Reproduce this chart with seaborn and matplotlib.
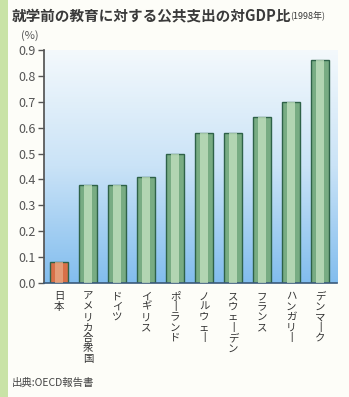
import numpy as np
import pandas as pd
import matplotlib
matplotlib.use("Agg")
import matplotlib.pyplot as plt
from matplotlib.colors import LinearSegmentedColormap
import seaborn as sns

countries = ["日本", "アメリカ合衆国", "ドイツ", "イギリス", "ポーランド",
             "ノルウェー", "スウェーデン", "フランス", "ハンガリー", "デンマーク"]
values = [0.08, 0.38, 0.38, 0.41, 0.50, 0.58, 0.58, 0.64, 0.70, 0.86]
yticks = [0.0, 0.1, 0.2, 0.3, 0.4, 0.5, 0.6, 0.7, 0.8, 0.9]

sns.set_theme(style="white")
plt.rcParams['font.family'] = ['Noto Sans CJK JP', 'DejaVu Sans']

df = pd.DataFrame({"country": countries, "value": values})

fig = plt.figure(figsize=(3.49, 3.97), dpi=100, facecolor="#fdfdf8")
# green strip on left edge
fig.patches.append(plt.Rectangle((0, 0), 0.022, 1, transform=fig.transFigure,
                                 facecolor="#c9e3a6", edgecolor="none", zorder=0))

ax = fig.add_axes([0.126, 0.287, 0.84, 0.587])

# gradient background
cmap = LinearSegmentedColormap.from_list("bg", ["#f4f9fc", "#cae3f7", "#82bdee"])
grad = np.linspace(0, 1, 256).reshape(-1, 1)
ax.imshow(grad, aspect="auto", cmap=cmap, extent=[0, 1, 0, 1],
          transform=ax.transAxes, zorder=0)

palette = ["#f06530"] + ["#6fb57e"] * (len(countries) - 1)
sns.barplot(data=df, x="country", y="value", hue="country", palette=palette,
            legend=False, width=0.65, edgecolor="#2e6248", linewidth=1.0,
            ax=ax, zorder=2)
light = ["#f9a878"] + ["#c2eabc"] * (len(countries) - 1)
sns.barplot(data=df, x="country", y="value", hue="country", palette=light,
            legend=False, width=0.28, linewidth=0, ax=ax, zorder=3)
for p in ax.patches[len(countries):]:
    p.set_alpha(0.75)

ax.set_xlim(-0.52, 9.59)
ax.set_ylim(0, 0.9)
ax.set_yticks(yticks)
ax.set_yticklabels([f"{t:.1f}" for t in yticks], fontsize=9, color="#555555")
ax.tick_params(axis="y", direction="out", length=4, width=1, color="#555555", left=True, pad=2)

def vert(s):
    return "\n".join("丨" if c == "ー" else c for c in s)

ax.set_xticks(range(len(countries)))
ax.set_xticklabels([vert(c) for c in countries], fontsize=7.5, color="#333333",
                   linespacing=1.05, va="top")
ax.tick_params(axis="x", length=0, pad=6)
ax.set_xlabel("")
ax.set_ylabel("")

for s in ["top", "right"]:
    ax.spines[s].set_visible(False)
ax.spines["left"].set_color("#555555")
ax.spines["bottom"].set_color("#3a5a7a")
ax.spines["bottom"].set_linewidth(1.2)

fig.text(0.034, 0.962, "就学前の教育に対する公共支出の対GDP比", fontsize=10.5,
         fontweight="bold", color="#3a3a3a", va="center", ha="left")
fig.text(0.83, 0.958, "(1998年)", fontsize=6.5, color="#3a3a3a", va="center", ha="left")
fig.text(0.06, 0.91, "(%)", fontsize=8, color="#555555", va="center", ha="left")
fig.text(0.034, 0.035, "出典:OECD報告書", fontsize=7.5, color="#444444", va="center", ha="left")

fig.savefig("out.png", dpi=100, facecolor=fig.get_facecolor())
